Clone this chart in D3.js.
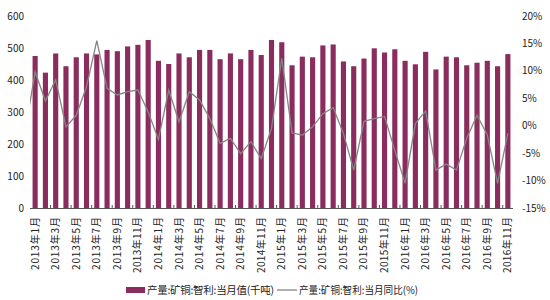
<!DOCTYPE html>
<html>
<head>
<meta charset="utf-8">
<script src="https://cdn.jsdelivr.net/npm/d3@7"></script>
<style>
  body { margin: 0; background: #fff; }
  text { font-family: "Noto Sans CJK SC", "DejaVu Sans", sans-serif; fill: #222; }
</style>
</head>
<body>
<svg id="chart" width="550" height="300"></svg>
<script>
// month labels 2013年1月 .. 2016年11月
var months = [];
[2013, 2014, 2015, 2016].forEach(function(y) {
  for (var m = 1; m <= 12; m++) {
    if (y == 2016 && m > 11) break;
    months.push(y + "年" + m + "月");
  }
});

// 产量:矿铜:智利:当月值(千吨)
var output = [475, 423, 483, 443, 471, 483, 480, 494, 490, 505, 510, 525,
              460, 450, 483, 471, 494, 494, 465, 483, 465, 494, 478, 525,
              518, 446, 473, 471, 508, 511, 458, 443, 467, 499, 486, 496,
              460, 449, 488, 433, 473, 471, 446, 454, 460, 443, 481];

// 产量:矿铜:智利:当月同比(%)
var yoy = [9.8, 4.5, 8.4, -0.2, 1.9, 7.1, 15.5, 6.8, 5.6, 6.2, 6.5, 2.5,
           -2.5, 6.5, 0.7, 6.2, 4.7, 1.3, -3.2, -2.3, -5.1, -2.9, -6.0, -0.5,
           12.3, -1.3, -1.7, -0.2, 2.2, 3.3, -1.4, -8.1, 0.8, 1.3, 1.7, -4.5,
           -10.5, 0.4, 2.7, -8.1, -7.0, -8.1, -2.3, 1.9, -1.7, -10.5, -1.4];
var prevYoy = -1.3; // 2012年12月, only the tail shows at the left edge

var leftTicks = [0, 100, 200, 300, 400, 500, 600];
var rightTicks = [-15, -10, -5, 0, 5, 10, 15, 20];
var legendNames = ["产量:矿铜:智利:当月值(千吨)", "产量:矿铜:智利:当月同比(%)"];

var x0 = 30, x1 = 513, yTop = 16, yBottom = 208;
var barColour = "#8a2d5e", lineColour = "#858585";

var svg = d3.select("#chart");

var x = d3.scaleBand()
  .domain(months)
  .range([x0, x1])
  .paddingInner(0.5)
  .paddingOuter(0.25);

var yLeft = d3.scaleLinear().domain([0, 600]).range([yBottom, yTop]);
var yRight = d3.scaleLinear().domain([-15, 20]).range([yBottom, yTop]);

// bars
svg.append("g")
  .selectAll("rect")
  .data(output)
  .enter().append("rect")
  .attr("x", function(d, i) { return x(months[i]); })
  .attr("y", function(d) { return yLeft(d); })
  .attr("width", x.bandwidth())
  .attr("height", function(d) { return yBottom - yLeft(d); })
  .attr("fill", barColour);

// line (clipped to the plot so the 2012 point only leaves a stub)
svg.append("clipPath").attr("id", "plot")
  .append("rect").attr("x", x0).attr("y", 0).attr("width", x1 - x0).attr("height", yBottom);

var pts = [[x(months[0]) + x.bandwidth() / 2 - x.step(), yRight(prevYoy)]].concat(
  yoy.map(function(d, i) { return [x(months[i]) + x.bandwidth() / 2, yRight(d)]; }));

svg.append("path")
  .attr("clip-path", "url(#plot)")
  .attr("d", d3.line()(pts))
  .attr("fill", "none")
  .attr("stroke", lineColour)
  .attr("stroke-width", 1.3);

// bottom axis
var axis = svg.append("g");
axis.append("line")
  .attr("x1", x0).attr("x2", x1)
  .attr("y1", yBottom + 0.5).attr("y2", yBottom + 0.5)
  .attr("stroke", "#555");

axis.selectAll(".tk")
  .data(months.filter(function(d, i) { return i % 2 == 0 && i > 0; }))
  .enter().append("line")
  .attr("x1", function(d) { return x(d) - x.step() * 0.25; })
  .attr("x2", function(d) { return x(d) - x.step() * 0.25; })
  .attr("y1", yBottom).attr("y2", yBottom - 3)
  .attr("stroke", "#555");

axis.selectAll(".lbl")
  .data(months.filter(function(d, i) { return i % 2 == 0; }))
  .enter().append("text")
  .attr("transform", function(d) {
    return "translate(" + (x(d) + x.bandwidth() / 2 + 3.5) + "," + (yBottom + 9) + ") rotate(-90)";
  })
  .attr("text-anchor", "end")
  .attr("textLength", function(d) { return d.length > 7 ? 56 : 53; })
  .attr("lengthAdjust", "spacing")
  .style("font-size", "10px")
  .text(function(d) { return d; });

// left ticks
svg.append("g")
  .selectAll("text")
  .data(leftTicks)
  .enter().append("text")
  .attr("x", 24)
  .attr("y", function(d) { return yLeft(d) + 3.5; })
  .attr("text-anchor", "end")
  .style("font-size", "10px")
  .text(function(d) { return d; });

// right ticks
svg.append("g")
  .selectAll("text")
  .data(rightTicks)
  .enter().append("text")
  .attr("x", 522)
  .attr("y", function(d) { return yRight(d) + 3.5; })
  .style("font-size", "10px")
  .text(function(d) { return d + "%"; });

// legend
var lg = svg.append("g");
lg.append("rect")
  .attr("x", 126).attr("y", 287).attr("width", 19).attr("height", 6)
  .attr("fill", barColour);
lg.append("text")
  .attr("x", 147).attr("y", 294)
  .attr("textLength", 127)
  .attr("lengthAdjust", "spacing")
  .style("font-size", "10.5px")
  .text(legendNames[0]);
lg.append("line")
  .attr("x1", 277).attr("x2", 297).attr("y1", 290).attr("y2", 290)
  .attr("stroke", lineColour).attr("stroke-width", 1.3);
lg.append("text")
  .attr("x", 299).attr("y", 294)
  .attr("textLength", 119)
  .attr("lengthAdjust", "spacingAndGlyphs")
  .style("font-size", "10.5px")
  .text(legendNames[1]);
</script>
</body>
</html>
